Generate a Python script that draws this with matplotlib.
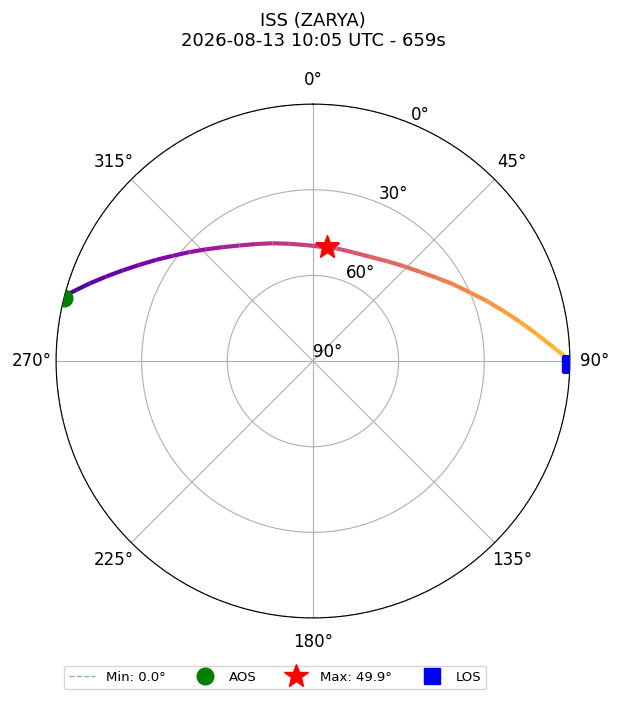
import numpy as np
import matplotlib.pyplot as plt
from matplotlib.collections import LineCollection

# pass info
sat_name = 'ISS (ZARYA)'
pass_start = '2026-08-13 10:05 UTC'
duration_s = 659
min_el = 0.0
max_el = 49.9

# track (azimuth deg, elevation deg)
az = [284.2, 285.5, 289.1, 292.2, 295.5, 299.0, 302.8, 306.9, 311.4,
      316.2, 321.6, 327.5, 334.0, 341.1, 348.6, 356.5, 7.2,
      11.9, 20.3, 28.6, 36.4, 43.5, 50.2, 56.0, 61.3, 66.4,
      70.9, 75.2, 79.3, 83.1, 86.7, 89.0, 90.7]
el = [0.0, 1.4, 7.1, 11.7, 16.2, 20.5, 24.6, 28.6, 32.3,
      35.8, 39.1, 42.0, 44.4, 46.4, 48.1, 49.3, 49.9,
      49.7, 49.4, 48.4, 46.5, 44.1, 41.2, 37.8, 34.0, 30.0,
      25.6, 21.1, 16.2, 11.1, 5.7, 1.7, 0.0]
i_max = 16

r_ticks = [0, 30, 60, 90]
r_ticklabels = ['90°', '60°', '30°', '0°']

theta = np.radians(az)
r = 90.0 - np.array(el)

fig = plt.figure(figsize=(6.2, 7.02), dpi=100)
ax = fig.add_axes([0.0903, 0.1197, 0.829, 0.732], projection='polar')
ax.set_theta_zero_location('N')
ax.set_theta_direction(-1)
ax.set_ylim(0, 90)
ax.set_yticks(r_ticks)
ax.set_yticklabels(r_ticklabels)
ax.set_xticks(np.radians(np.arange(0, 360, 45)))
ax.tick_params(labelsize=12)
ax.tick_params(axis='x', pad=7)

# min elevation ring
ring = np.linspace(0, 2 * np.pi, 361)
ax.plot(ring, np.full_like(ring, 90.0 - min_el), '--', color='green',
        alpha=0.5, lw=1, label=f'Min: {min_el:.1f}°')

# track coloured by time
pts = np.column_stack([theta, r]).reshape(-1, 1, 2)
segs = np.concatenate([pts[:-1], pts[1:]], axis=1)
cols = plt.cm.plasma(np.linspace(0.12, 0.88, len(segs)))
lc = LineCollection(segs, colors=cols, linewidths=3, zorder=3)
ax.add_collection(lc)

ax.plot(theta[0], r[0], 'o', color='green', ms=12, zorder=4, label='AOS')
ax.plot(theta[i_max], r[i_max], '*', color='red', ms=18, zorder=4,
        label=f'Max: {max_el:.1f}°')
ax.plot(theta[-1], r[-1], 's', color='blue', ms=12, zorder=4, label='LOS')

fig.text(0.505, 1 - 31 / 702, f'{sat_name}\n{pass_start} - {duration_s}s',
         ha='center', va='center', fontsize=13)

fig.legend(loc='center', bbox_to_anchor=(275 / 620, 1 - 677.5 / 702),
           ncol=4, fontsize=9.5)

plt.savefig('out.png', dpi=100)
